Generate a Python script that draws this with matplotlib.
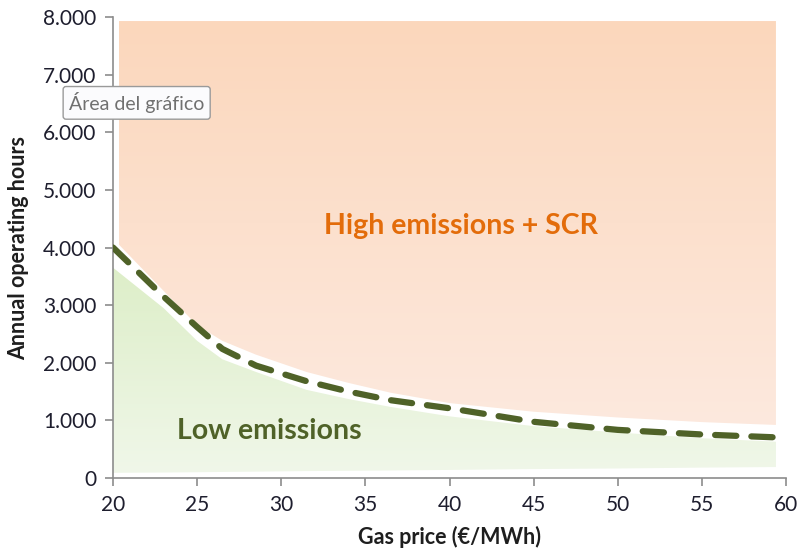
import numpy as np
import matplotlib.pyplot as plt
from matplotlib.ticker import FuncFormatter
from matplotlib.colors import LinearSegmentedColormap

# gas price (x) and the dashed boundary line
gas_price = [20, 23, 25, 26.5, 28.5, 31.5, 34, 36.5, 40, 45, 50, 55, 59.4]
hours = [4000, 3150, 2620, 2240, 1950, 1680, 1500, 1350, 1210, 975, 835, 755, 705]

# edges of the two shaded regions
high_lower = [4050, 3250, 2650, 2380, 2140, 1840, 1650, 1480, 1300, 1150, 1050, 970, 920]
high_upper = [7930] * len(gas_price)
low_upper = [3650, 2950, 2380, 2060, 1840, 1530, 1370, 1233, 1070, 900, 790, 690, 630]
low_lower = [90, 95, 100, 105, 110, 120, 125, 130, 140, 155, 165, 180, 190]

x_ticks = [20, 25, 30, 35, 40, 45, 50, 55, 60]
y_ticks = [0, 1000, 2000, 3000, 4000, 5000, 6000, 7000, 8000]

plt.rcParams['font.family'] = ['Lato', 'DejaVu Sans']

fig = plt.figure(figsize=(8.02, 5.56), dpi=100)
ax = fig.add_axes([0.1409, 0.1403, 0.8392, 0.8291])


def gradient_fill(x, lower, upper, c_top, c_bottom):
    # draw a vertical gradient clipped to the fill polygon
    poly = ax.fill_between(x, lower, upper, color='none', lw=0)
    cmap = LinearSegmentedColormap.from_list('g', [c_bottom, c_top])
    grad = np.linspace(0, 1, 256).reshape(-1, 1)
    im = ax.imshow(grad, cmap=cmap, aspect='auto', origin='lower',
                   extent=[min(x), max(x), min(lower), max(upper)], zorder=1)
    im.set_clip_path(poly.get_paths()[0], transform=ax.transData)


high_x = [20.35] + gas_price[1:]
gradient_fill(high_x, high_lower, high_upper, '#FBD7BC', '#FDE9DE')
gradient_fill(gas_price, low_lower, low_upper, '#DDEEC8', '#F0F7E9')

ax.plot(gas_price, hours, color='#4F6228', lw=4.5, ls=(0, (3.4, 2.4)),
        dash_capstyle='round', solid_joinstyle='round', zorder=3)

ax.text(40.7, 4380, 'High emissions + SCR', color='#E36C0A', fontsize=20.5,
        fontweight='bold', ha='center', va='center', zorder=4)
ax.text(29.3, 820, 'Low emissions', color='#4F6228', fontsize=20.5,
        fontweight='bold', ha='center', va='center', zorder=4)

ax.set_xlim(20, 60)
ax.set_ylim(0, 8000)
ax.set_xticks(x_ticks)
ax.set_yticks(y_ticks)
ax.yaxis.set_major_formatter(FuncFormatter(lambda v, p: f'{int(v):,}'.replace(',', '.')))

for s in ['top', 'right']:
    ax.spines[s].set_visible(False)
for s in ['left', 'bottom']:
    ax.spines[s].set_color('#8C8C8C')
    ax.spines[s].set_linewidth(1.2)
ax.tick_params(direction='out', length=6, width=1.2, color='#8C8C8C',
               labelsize=15, labelcolor='#1E1E2E', pad=6)

ax.set_xlabel('Gas price (€/MWh)', fontsize=15.5, fontweight='bold', color='#1E1E1E', labelpad=8)
ax.set_ylabel('Annual operating hours', fontsize=15.5, fontweight='bold', color='#1E1E1E', labelpad=10)

# the chart-area tooltip visible in the screenshot
fig.text(0.086, 0.815, 'Área del gráfico', fontsize=14, color='#707070', va='center',
         bbox=dict(boxstyle='round,pad=0.3,rounding_size=0.15', fc='#FBFBFD',
                   ec='#9A9A9A', lw=1))

plt.savefig('out.png', dpi=100)
